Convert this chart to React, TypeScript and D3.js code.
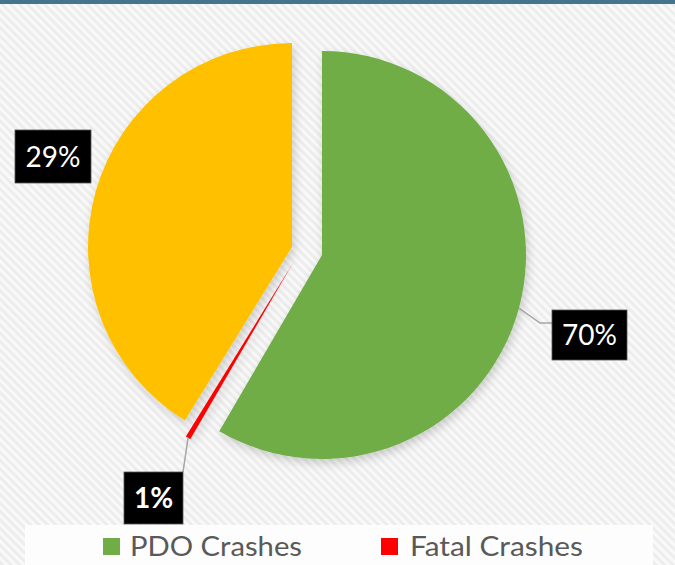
import React from 'react';
import * as d3 from 'd3';

// Slice data (shares) and printed labels
const categories = ['PDO Crashes', 'Fatal Crashes', 'Injury Crashes'];
const sliceShares = [58.4, 0.4, 41.2];
const percentLabels = ['70%', '1%', '29%'];
const legendItems = ['PDO Crashes', 'Fatal Crashes'];

const COLORS: Record<string, string> = {
  'PDO Crashes': '#70ad47',
  'Fatal Crashes': '#ff0000',
  'Injury Crashes': '#ffc000',
};

const W = 675;
const H = 565;
const CX = 292;
const CY = 247;
const R = 204;
// explode offsets per slice
const OFFSETS: [number, number][] = [[30, 8], [1, 16], [0, 0]];

type LabelLayout = {
  x: number; y: number; w: number; h: number; bold: boolean;
  leader: [number, number][] | null; // extra points after rim point
};
const LABELS: LabelLayout[] = [
  { x: 552, y: 310, w: 75, h: 50, bold: false, leader: [[540, 323], [552, 323]] },
  { x: 124, y: 472, w: 59, h: 52, bold: true, leader: [[183, 472]] },
  { x: 15, y: 130, w: 76, h: 53, bold: false, leader: null },
];

const LEGEND_POS = [{ x: 103, tx: 130, len: 172 }, { x: 381, tx: 410, len: 173 }];

export default function App() {
  const pie = d3.pie<number>().sort(null).value((d) => d);
  const arcs = pie(sliceShares);
  const arc = d3.arc<d3.PieArcDatum<number>>().innerRadius(0).outerRadius(R);

  return (
    <svg width={W} height={H} style={{ position: 'absolute', left: 0, top: 0 }}
      fontFamily="Lato, 'Open Sans', sans-serif">
      <defs>
        <pattern id="stripes" width="6" height="6" patternUnits="userSpaceOnUse" patternTransform="rotate(-45)">
          <rect width="6" height="6" fill="#ededed" />
          <rect width="3" height="6" fill="#f9f9f9" />
        </pattern>
        <filter id="shadow" x="-20%" y="-20%" width="140%" height="140%">
          <feDropShadow dx="2" dy="4" stdDeviation="5" floodColor="#000" floodOpacity="0.18" />
        </filter>
      </defs>
      <rect x={0} y={0} width={W} height={H} fill="url(#stripes)" />
      <rect x={25} y={525} width={628} height={40} fill="#fdfdfd" />
      <rect x={0} y={0} width={W} height={4} fill="#44748e" />

      <g filter="url(#shadow)">
        {arcs.map((a, i) => (
          <path key={categories[i]}
            d={arc(a) || ''}
            transform={`translate(${CX + OFFSETS[i][0]},${CY + OFFSETS[i][1]})`}
            fill={COLORS[categories[i]]} />
        ))}
      </g>

      {arcs.map((a, i) => {
        const L = LABELS[i];
        const mid = (a.startAngle + a.endAngle) / 2;
        const sx = CX + OFFSETS[i][0] + R * Math.sin(mid);
        const sy = CY + OFFSETS[i][1] - R * Math.cos(mid);
        const pts: [number, number][] = L.leader ? [[sx, sy], ...L.leader] : [];
        return (
          <g key={'lbl' + i}>
            {L.leader && (
              <path d={d3.line()(pts) || ''} fill="none" stroke="#a6a6a6" strokeWidth={1.5} />
            )}
            <rect x={L.x} y={L.y} width={L.w} height={L.h} fill="#000" stroke="#555" strokeWidth={0.8} />
            <text x={L.x + L.w / 2} y={L.y + L.h / 2 + 10} textAnchor="middle" fill="#fff"
              fontSize={28} fontWeight={L.bold ? 700 : 400}>
              {percentLabels[i]}
            </text>
          </g>
        );
      })}

      {legendItems.map((name, i) => (
        <g key={name}>
          <rect x={LEGEND_POS[i].x} y={538} width={17} height={17} fill={COLORS[name]} />
          <text x={LEGEND_POS[i].tx} y={556} fontSize={27} fill="#595959"
            textLength={LEGEND_POS[i].len} lengthAdjust="spacingAndGlyphs">{name}</text>
        </g>
      ))}
    </svg>
  );
}
